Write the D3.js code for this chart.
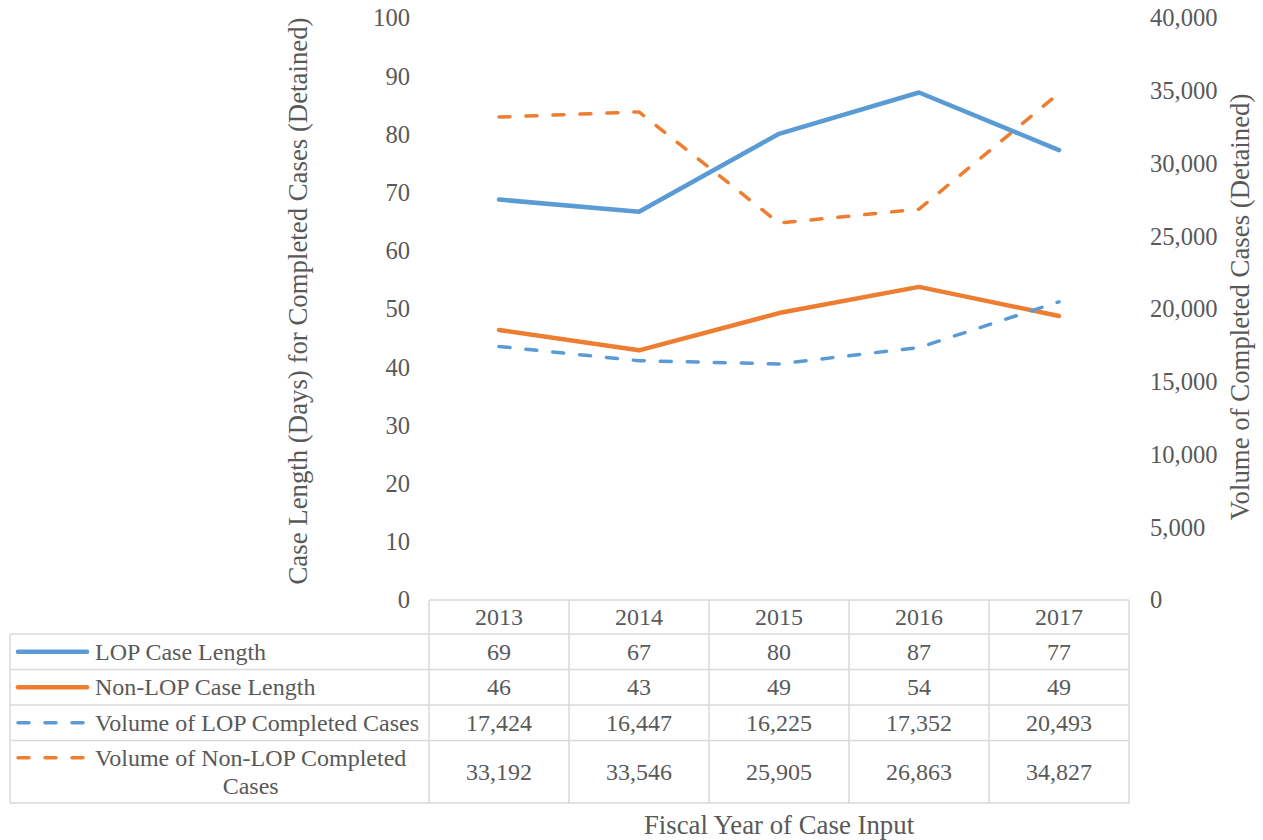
<!DOCTYPE html>
<html>
<head>
<meta charset="utf-8">
<script src="https://cdn.jsdelivr.net/npm/d3@7"></script>
<style>
  body { margin: 0; background: #fff; }
  svg text { font-family: "Liberation Serif", "Times New Roman", serif !important; fill: #595959; }
</style>
</head>
<body>
<svg id="chart" width="1263" height="840" font-family="Liberation Serif"></svg>
<script>
// data
var years = ["2013", "2014", "2015", "2016", "2017"];
var lopLength = [68.8, 66.7, 80.1, 87.2, 77.3];
var nonLopLength = [46.4, 42.9, 49.3, 53.8, 48.8];
var lopVolume = [17424, 16447, 16225, 17352, 20493];
var nonLopVolume = [33192, 33546, 25905, 26863, 34827];
var leftTicks = [0, 10, 20, 30, 40, 50, 60, 70, 80, 90, 100];
var rightTicks = [0, 5000, 10000, 15000, 20000, 25000, 30000, 35000, 40000];

var series = [
  { name: "LOP Case Length", values: lopLength, axis: "left", color: "#5b9bd5", dashed: false, fmt: d3.format(".0f") },
  { name: "Non-LOP Case Length", values: nonLopLength, axis: "left", color: "#ed7d31", dashed: false, fmt: d3.format(".0f") },
  { name: "Volume of LOP Completed Cases", values: lopVolume, axis: "right", color: "#5b9bd5", dashed: true, fmt: d3.format(",") },
  { name: ["Volume of Non-LOP Completed", "Cases"], values: nonLopVolume, axis: "right", color: "#ed7d31", dashed: true, fmt: d3.format(",") }
];

var svg = d3.select("#chart"),
    plotLeft = 429,
    plotRight = 1129,
    plotTop = 18,
    plotBottom = 600,
    tableLeft = 10,
    fontSize = 24,
    tickSize = 24.6,
    titleSize = 26.8;

var x = d3.scaleBand().domain(years).range([plotLeft, plotRight]),
    yLeft = d3.scaleLinear().domain([0, 100]).range([plotBottom, plotTop]),
    yRight = d3.scaleLinear().domain([0, 40000]).range([plotBottom, plotTop]);

// left axis
var leftAxis = svg.append("g")
  .attr("transform", "translate(" + (plotLeft - 19) + ",0)")
  .call(d3.axisLeft(yLeft).tickValues(leftTicks).tickSize(0).tickPadding(0));
leftAxis.attr("font-family", null).attr("font-size", tickSize);
leftAxis.select(".domain").remove();
leftAxis.selectAll("text").attr("fill", "#595959");

// right axis
var rightAxis = svg.append("g")
  .attr("transform", "translate(" + (plotRight + 21) + ",0)")
  .call(d3.axisRight(yRight).tickValues(rightTicks).tickSize(0).tickPadding(0).tickFormat(d3.format(",")));
rightAxis.attr("font-family", null).attr("font-size", tickSize);
rightAxis.select(".domain").remove();
rightAxis.selectAll("text").attr("fill", "#595959");

// axis titles
svg.append("text")
  .attr("transform", "translate(298,301) rotate(-90)")
  .attr("text-anchor", "middle")
  .attr("dominant-baseline", "central")
  .attr("font-size", titleSize)
  .text("Case Length (Days) for Completed Cases (Detained)");

svg.append("text")
  .attr("transform", "translate(1240,307) rotate(-90)")
  .attr("text-anchor", "middle")
  .attr("dominant-baseline", "central")
  .attr("font-size", titleSize)
  .text("Volume of Completed Cases (Detained)");

// lines
var lines = svg.append("g");
series.forEach(function(s) {
  var y = s.axis === "left" ? yLeft : yRight;
  var line = d3.line()
    .x(function(d, i) { return x(years[i]) + x.bandwidth() / 2; })
    .y(function(d) { return y(d); });
  lines.append("path")
    .datum(s.values)
    .attr("d", line)
    .attr("fill", "none")
    .attr("stroke", s.color)
    .attr("stroke-width", s.dashed ? 3.5 : 4.5)
    .attr("stroke-linecap", "round")
    .attr("stroke-linejoin", "round")
    .attr("stroke-dasharray", s.dashed ? "11,16" : null);
});

// data table
var rowTops = [600, 634, 669.5, 705, 740.5, 803];
var table = svg.append("g"),
    border = "#d9d9d9";

// header row
table.append("line")
  .attr("x1", plotLeft).attr("x2", plotRight)
  .attr("y1", rowTops[0]).attr("y2", rowTops[0])
  .attr("stroke", border).attr("stroke-width", 1.5);
table.selectAll("text.year")
  .data(years)
  .enter().append("text")
  .attr("class", "year")
  .attr("x", function(d) { return x(d) + x.bandwidth() / 2; })
  .attr("y", (rowTops[0] + rowTops[1]) / 2)
  .attr("text-anchor", "middle")
  .attr("dominant-baseline", "central")
  .attr("font-size", fontSize)
  .text(function(d) { return d; });

// horizontal borders of the series rows
rowTops.slice(1).forEach(function(yy) {
  table.append("line")
    .attr("x1", tableLeft).attr("x2", plotRight)
    .attr("y1", yy).attr("y2", yy)
    .attr("stroke", border).attr("stroke-width", 1.5);
});

// vertical borders
table.append("line")
  .attr("x1", tableLeft).attr("x2", tableLeft)
  .attr("y1", rowTops[1]).attr("y2", rowTops[5])
  .attr("stroke", border).attr("stroke-width", 1.5);
years.forEach(function(yr) {
  table.append("line")
    .attr("x1", x(yr)).attr("x2", x(yr))
    .attr("y1", rowTops[0]).attr("y2", rowTops[5])
    .attr("stroke", border).attr("stroke-width", 1.5);
});
table.append("line")
  .attr("x1", plotRight).attr("x2", plotRight)
  .attr("y1", rowTops[0]).attr("y2", rowTops[5])
  .attr("stroke", border).attr("stroke-width", 1.5);

// rows: legend key, label and values
series.forEach(function(s, i) {
  var top = rowTops[i + 1], bottom = rowTops[i + 2],
      mid = (top + bottom) / 2,
      keyY = Array.isArray(s.name) ? mid - 14 : mid;

  table.append("line")
    .attr("x1", 18).attr("x2", 87)
    .attr("y1", keyY).attr("y2", keyY)
    .attr("stroke", s.color)
    .attr("stroke-width", s.dashed ? 3.5 : 4.5)
    .attr("stroke-linecap", "round")
    .attr("stroke-dasharray", s.dashed ? "11,16" : null);

  if (Array.isArray(s.name)) {
    var first = table.append("text")
      .attr("x", 95).attr("y", keyY)
      .attr("dominant-baseline", "central")
      .attr("font-size", fontSize)
      .text(s.name[0]);
    var w = first.node().getComputedTextLength();
    table.append("text")
      .attr("x", 95 + w / 2).attr("y", keyY + 28)
      .attr("text-anchor", "middle")
      .attr("dominant-baseline", "central")
      .attr("font-size", fontSize)
      .text(s.name[1]);
  } else {
    table.append("text")
      .attr("x", 95).attr("y", mid)
      .attr("dominant-baseline", "central")
      .attr("font-size", fontSize)
      .text(s.name);
  }

  table.selectAll(null)
    .data(s.values)
    .enter().append("text")
    .attr("x", function(d, j) { return x(years[j]) + x.bandwidth() / 2; })
    .attr("y", mid)
    .attr("text-anchor", "middle")
    .attr("dominant-baseline", "central")
    .attr("font-size", fontSize)
    .text(function(d) { return s.fmt(d); });
});

// x axis title
svg.append("text")
  .attr("x", (plotLeft + plotRight) / 2)
  .attr("y", 825)
  .attr("text-anchor", "middle")
  .attr("dominant-baseline", "central")
  .attr("font-size", titleSize)
  .text("Fiscal Year of Case Input");
</script>
</body>
</html>
